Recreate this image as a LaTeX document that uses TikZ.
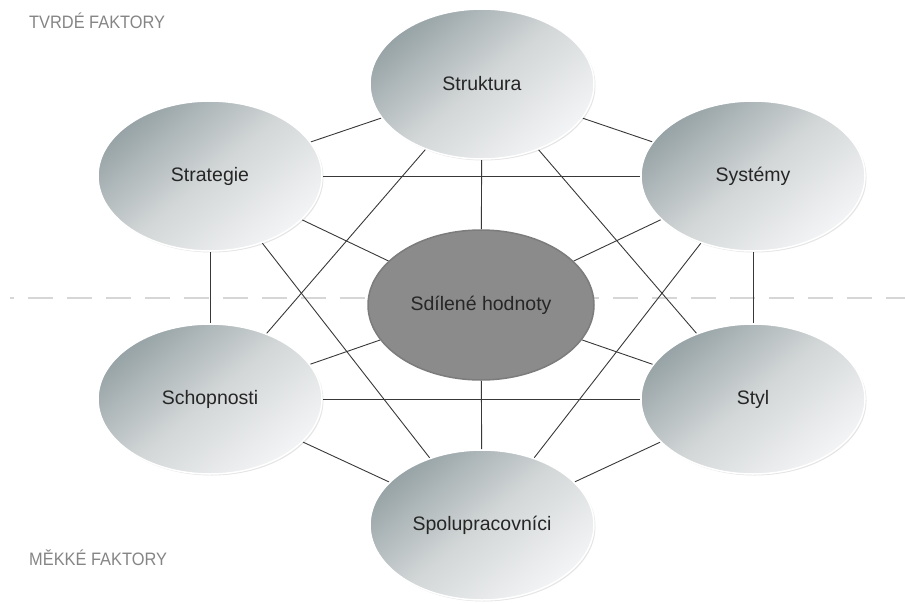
\documentclass[tikz,border=0pt]{standalone}
\usepackage{fontspec}
\setmainfont{Liberation Sans}
\newfontfamily\cornerfont[FakeStretch=0.91]{Liberation Sans}
\usetikzlibrary{shapes.geometric,shadows}
\pgfdeclarelayer{background}
\pgfsetlayers{background,main}

\definecolor{ovaldark}{HTML}{97A3A6}
\definecolor{ovalmid}{HTML}{D3D7D8}
\definecolor{ovallight}{HTML}{F3F4F5}
\definecolor{coreoval}{HTML}{8B8B8B}
\definecolor{coreedge}{HTML}{7C7C7C}
\definecolor{linkgray}{HTML}{383838}
\definecolor{dashgray}{HTML}{D6D6D6}
\definecolor{cornergray}{HTML}{858585}
\definecolor{labeltext}{HTML}{262626}

\tikzset{
  factor/.style={ellipse, minimum width=224pt, minimum height=150pt, inner sep=0pt,
    top color=ovaldark, bottom color=ovallight, middle color=ovalmid, shading angle=40,
    draw=white, line width=1.5pt,
    general shadow={fill=black, opacity=0.10, shadow xshift=1.5pt, shadow yshift=-1.5pt},
    font=\fontsize{19.5}{21}\selectfont, text=labeltext},
  corefactor/.style={ellipse, minimum width=226pt, minimum height=150pt, inner sep=0pt,
    fill=coreoval, draw=coreedge, line width=1.5pt,
    font=\fontsize{19.5}{21}\selectfont, text=labeltext},
  link/.style={draw=linkgray, line width=0.9pt},
  divider/.style={draw=dashgray, line width=2pt, dash pattern=on 25pt off 14pt, dash phase=21pt},
  corner/.style={anchor=base west, inner sep=0pt, font=\cornerfont\fontsize{18}{20}\selectfont, text=cornergray}
}

\begin{document}
\begin{tikzpicture}[x=1pt, y=-1pt]
  \path[use as bounding box] (0,0) rectangle (905,603);

  % the seven factors
  \node[factor] (strukt) at (482,84) {Struktura};
  \node[factor] (strat) at (210,176) {Strategie};
  \node[factor] (syst) at (753,176) {Systémy};
  \node[factor] (schop) at (210,399) {Schopnosti};
  \node[factor] (styl) at (753,399) {Styl};
  \node[factor] (spol) at (482,525) {Spolupracovníci};
  \node[corefactor] (sdil) at (481,305) {Sdílené hodnoty};

  % hard / soft labels
  \node[corner] (hard) at (29,28) {TVRDÉ FAKTORY};
  \node[corner] (soft) at (29,565) {MĚKKÉ FAKTORY};

  \begin{pgfonlayer}{background}
    % hard/soft boundary
    \coordinate (divL) at (10,298);
    \coordinate (divR) at (905,298);
    \draw[divider] (divL) -- (divR);

    % links between the factors
    \foreach \a/\b in {strukt/strat, strukt/syst, strukt/sdil, strukt/schop, strukt/styl,
                       strat/syst, strat/sdil, strat/schop, strat/spol,
                       syst/sdil, syst/styl, syst/spol,
                       schop/sdil, schop/styl, schop/spol,
                       styl/sdil, styl/spol, sdil/spol}
      \draw[link] (\a) -- (\b);
  \end{pgfonlayer}
\end{tikzpicture}
\end{document}
